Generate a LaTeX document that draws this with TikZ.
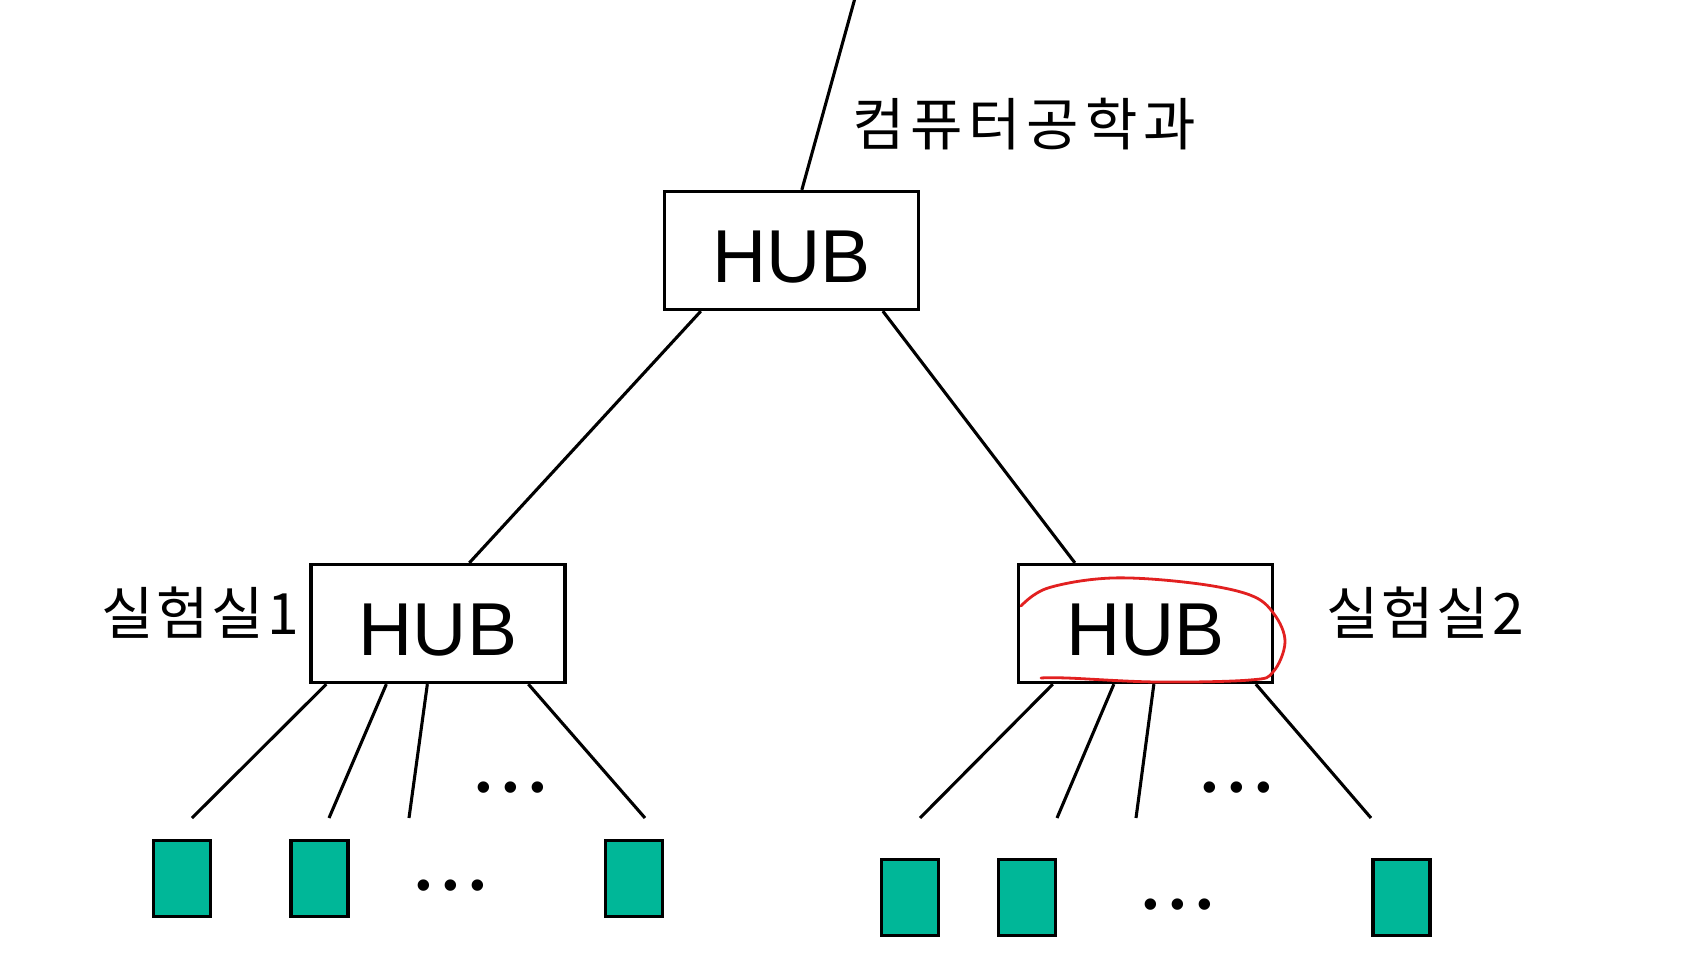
\documentclass[tikz,border=0pt]{standalone}
\usepackage{fontspec}
\setmainfont{Liberation Sans}
\newfontfamily\krfont{Noto Sans CJK KR}
\newfontfamily\krwide{Noto Sans CJK KR}[LetterSpace=10]
\newfontfamily\krmid{Noto Sans CJK KR}[LetterSpace=5]
\usetikzlibrary{calc}
\definecolor{pcfill}{RGB}{0,183,152}
\definecolor{penred}{RGB}{226,32,32}
\begin{document}
\begin{tikzpicture}[x=1pt,y=-1pt,
  hub/.style={draw,line width=3.3pt,minimum width=254pt,minimum height=118pt,inner sep=0pt,
    font=\fontsize{75}{75}\selectfont,text height=63pt,text depth=0pt},
  pc/.style={draw,line width=3.3pt,fill=pcfill,minimum width=57pt,minimum height=76pt,inner sep=0pt},
  wire/.style={line width=3.1pt},
  lbl/.style={inner sep=0pt},
  dots/.style={font=\fontsize{42}{42}\selectfont,inner sep=0pt}]
\useasboundingbox[fill=white] (0,0) rectangle (1693,955);

% hubs
\node[hub] (th) at (791.5,250.5) {HUB};
\node[hub] (lh) at (438,623.5) {HUB};
\node[hub] (rh) at (1145.5,623.5) {HUB};

% labels
\node[lbl,font=\krwide\fontsize{57}{57}\selectfont] (ltop) at (1024,124) {컴퓨터공학과};
\node[lbl,font=\krmid\fontsize{57}{57}\selectfont] (l1) at (200,613) {실험실1};
\node[lbl,font=\krmid\fontsize{57}{57}\selectfont] (l2) at (1425,613) {실험실2};

% uplink
\coordinate (up) at (855,-2);
\draw[wire] ([xshift=139pt]th.north west) -- (up);

% hub to hub
\draw[wire] ([xshift=38pt]th.south west) -- ([xshift=160pt]lh.north west);
\draw[wire] ([xshift=220pt]th.south west) -- ([xshift=58pt]rh.north west);

% left PCs
\node[pc] (p1) at (182,878.5) {};
\node[pc] (p2) at (319.5,878.5) {};
\node[pc] (p3) at (634,878.5) {};
% right PCs
\node[pc] (q1) at (910,897.5) {};
\node[pc] (q2) at (1027,897.5) {};
\node[pc] (q3) at (1401.5,897.5) {};

% left fan-out
\coordinate (a1) at (192,818);
\coordinate (a2) at (329,818);
\coordinate (a3) at (409,818);
\coordinate (a4) at (645,818);
\draw[wire] ([xshift=17pt]lh.south west) -- (a1);
\draw[wire] ([xshift=77pt]lh.south west) -- (a2);
\draw[wire] ([xshift=118pt]lh.south west) -- (a3);
\draw[wire] ([xshift=219pt]lh.south west) -- (a4);

% right fan-out
\coordinate (b1) at (920,818);
\coordinate (b2) at (1057,818);
\coordinate (b3) at (1136,818);
\coordinate (b4) at (1371,818);
\draw[wire] ([xshift=36pt]rh.south west) -- (b1);
\draw[wire] ([xshift=97pt]rh.south west) -- (b2);
\draw[wire] ([xshift=137pt]rh.south west) -- (b3);
\draw[wire] ([xshift=239pt]rh.south west) -- (b4);

% ellipses
\node[dots] (d1) at (511,792) {•\hspace{12pt}•\hspace{12pt}•};
\node[dots] (d2) at (451,890) {•\hspace{12pt}•\hspace{12pt}•};
\node[dots] (d3) at (1237,792) {•\hspace{12pt}•\hspace{12pt}•};
\node[dots] (d4) at (1178,909) {•\hspace{12pt}•\hspace{12pt}•};

% red pen mark
\draw[penred,line width=2.8pt,line cap=round,line join=round] plot[smooth,tension=0.6] coordinates {
 (1021,606) (1048,588) (1112,578) (1192,583) (1250,595) (1274,614) (1285,642)
 (1273,672) (1250,680) (1157,682) (1067,678) (1041,678)};
\end{tikzpicture}
\end{document}
